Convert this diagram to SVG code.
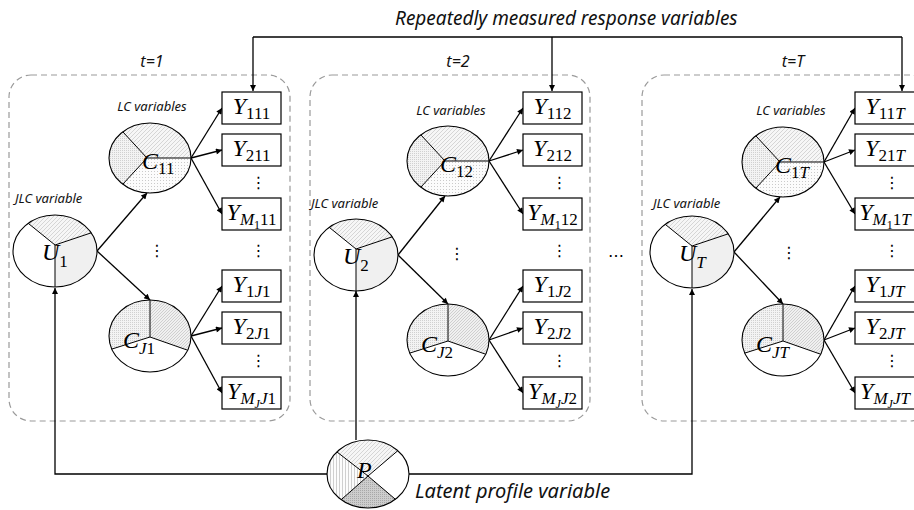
<svg xmlns="http://www.w3.org/2000/svg" xmlns:xlink="http://www.w3.org/1999/xlink" width="914" height="510" viewBox="0 0 914 510">
<style>
.panel{fill:none;stroke:#9a9a9a;stroke-width:1.2;stroke-dasharray:6 4}
.box{fill:#fff;stroke:#000;stroke-width:1.2}
.ol{fill:none;stroke:#000;stroke-width:1.1}
.ln{fill:none;stroke:#000;stroke-width:1}
.con{fill:none;stroke:#000;stroke-width:1.3}
.arr{fill:none;stroke:#000;stroke-width:1.3;marker-end:url(#ah)}
.m{font-family:"Liberation Serif",serif;font-style:italic;font-size:24px;fill:#000}
.mid{text-anchor:middle}
.sub{font-size:17px;font-style:normal}
.subi{font-size:17px;font-style:italic}
.ss{font-size:12px;font-style:normal}
.ssi{font-size:12px;font-style:italic}
.lab{font-family:"Noto Sans","Open Sans",sans-serif;font-style:italic;font-size:13px;fill:#111}
.big{font-size:19px}
.tt{font-size:16px;text-anchor:middle}
.dots{font-family:"DejaVu Sans",sans-serif;font-size:16px;text-anchor:middle;fill:#000}
</style>
<defs>
<marker id="ah" viewBox="0 0 10 10" refX="10" refY="5" markerWidth="8" markerHeight="6" markerUnits="userSpaceOnUse" orient="auto"><path d="M0,0 L10,5 L0,10 Z" fill="#000"/></marker>
<pattern id="hatch" width="4" height="4" patternUnits="userSpaceOnUse"><rect width="4" height="4" fill="#f6f6f6"/><path d="M0,4 L4,0" stroke="#cdcdcd" stroke-width="0.8"/></pattern>
<pattern id="hatch2" width="3" height="3" patternUnits="userSpaceOnUse"><rect width="3" height="3" fill="#f0f0f0"/><path d="M0,3 L3,0" stroke="#c2c2c2" stroke-width="0.7"/></pattern>
<pattern id="dots" width="3" height="3" patternUnits="userSpaceOnUse"><rect width="3" height="3" fill="#fcfcfc"/><rect x="1" y="1" width="1" height="1" fill="#cacaca"/></pattern>
<pattern id="dotsD" width="2" height="2" patternUnits="userSpaceOnUse"><rect width="2" height="2" fill="#f3f3f3"/><rect width="1" height="1" fill="#d0d0d0"/></pattern>
<pattern id="vl" width="3" height="3" patternUnits="userSpaceOnUse"><rect width="3" height="3" fill="#fcfcfc"/><path d="M1.5,0 V3" stroke="#b0b0b0" stroke-width="0.6"/></pattern>
<pattern id="dk" width="2" height="2" patternUnits="userSpaceOnUse"><rect width="2" height="2" fill="#cdcdcd"/><rect width="1" height="1" fill="#a8a8a8"/></pattern>
<g id="shCTop">
<ellipse rx="41" ry="35" fill="#fff"/>
<path d="M-3,0 L-27.2,-26.2 A41,35 0 0 0 -27.2,26.2 Z" fill="url(#dotsD)"/>
<path d="M-3,0 L-27.2,-26.2 A41,35 0 0 1 41,0 Z" fill="url(#hatch)"/>
<path d="M-3,0 L41,0 A41,35 0 0 1 -27.2,26.2 Z" fill="url(#dots)"/>
<path class="ln" d="M-27.2,-26.2 L-3,0 L-27.2,26.2 M-3,0 H41"/>
<ellipse class="ol" rx="41" ry="35"/>
</g>
<g id="shCBot">
<ellipse rx="41" ry="36" fill="#fff"/>
<path d="M0,1 L0,-36 A41,36 0 0 0 -38.2,13.1 Z" fill="url(#dotsD)"/>
<path d="M0,1 L0,-36 A41,36 0 0 1 37.6,14.2 Z" fill="url(#hatch2)"/>
<path class="ln" d="M0,-36 V1 M-38.2,13.1 L0,1 L37.6,14.2"/>
<ellipse class="ol" rx="41" ry="36"/>
</g>
<g id="shU">
<ellipse rx="42" ry="36" fill="#fff"/>
<path d="M0,-6 L-26.8,-27.7 A42,36 0 0 1 36.3,-18.2 Z" fill="url(#hatch)"/>
<path d="M0,-6 L36.3,-18.2 A42,36 0 0 1 0,36 Z" fill="#f0f0f0"/>
<path class="ln" d="M-26.8,-27.7 L0,-6 L36.3,-18.2 M0,-6 V36"/>
<ellipse class="ol" rx="42" ry="36"/>
</g>
</defs>
<rect width="914" height="510" fill="#fff"/>

<text class="lab big" x="395" y="25">Repeatedly measured response variables</text>

<g id="panels">
<rect class="panel" x="9" y="75" width="281" height="346" rx="22"/>
<rect class="panel" x="310" y="75" width="280" height="346" rx="22"/>
<rect class="panel" x="642" y="75" width="290" height="346" rx="22"/>
</g>
<text class="lab tt" x="152" y="67">t=1</text>
<text class="lab tt" x="458" y="67">t=2</text>
<text class="lab tt" x="793" y="67">t=T</text>
<text class="lab mid" x="152" y="111">LC variables</text>
<text class="lab mid" x="451" y="115">LC variables</text>
<text class="lab mid" x="791" y="115">LC variables</text>
<text class="lab" x="15" y="203">JLC variable</text>
<text class="lab" x="311" y="208">JLC variable</text>
<text class="lab" x="653" y="208">JLC variable</text>

<g id="connectors">
<path class="con" d="M253,37 H902"/>
<path class="arr" d="M253,37 V91"/>
<path class="arr" d="M552,37 V91"/>
<path class="arr" d="M902,37 V91"/>
<path class="arr" d="M327,474 H55 V288"/>
<path class="arr" d="M356,440 V291"/>
<path class="arr" d="M409,474 H692 V289"/>
<path class="arr" d="M97,251 L147,193"/>
<path class="arr" d="M97,251 L150,300"/>
<path class="arr" d="M398,255 L445,196"/>
<path class="arr" d="M398,255 L448,304"/>
<path class="arr" d="M734,252 L780,197"/>
<path class="arr" d="M734,252 L783,304"/>
<path class="arr" d="M191,158 L222,108"/>
<path class="arr" d="M191,158 L222,150"/>
<path class="arr" d="M191,158 L222,214"/>
<path class="arr" d="M191,336 L222,286"/>
<path class="arr" d="M191,336 L222,328"/>
<path class="arr" d="M191,336 L222,393"/>
<path class="arr" d="M489,161 L523,108"/>
<path class="arr" d="M489,161 L523,150"/>
<path class="arr" d="M489,161 L523,214"/>
<path class="arr" d="M489,340 L523,286"/>
<path class="arr" d="M489,340 L523,328"/>
<path class="arr" d="M489,340 L523,393"/>
<path class="arr" d="M824,162 L855,108"/>
<path class="arr" d="M824,162 L855,150"/>
<path class="arr" d="M824,162 L855,214"/>
<path class="arr" d="M824,340 L855,286"/>
<path class="arr" d="M824,340 L855,328"/>
<path class="arr" d="M824,340 L855,393"/>
</g>

<g id="U1" transform="translate(55,251)"><use xlink:href="#shU"/><text class="m" x="-13" y="9">U<tspan class="sub" dy="7">1</tspan></text></g>
<g id="U2" transform="translate(356,255)"><use xlink:href="#shU"/><text class="m" x="-13" y="9">U<tspan class="sub" dy="7">2</tspan></text></g>
<g id="UT" transform="translate(692,252)"><use xlink:href="#shU"/><text class="m" x="-13" y="9">U<tspan class="subi" dy="7">T</tspan></text></g>

<g id="C11" transform="translate(150,158)"><use xlink:href="#shCTop"/><text class="m" x="-8" y="11">C<tspan class="sub" dy="5">11</tspan></text></g>
<g id="C12" transform="translate(448,161)"><use xlink:href="#shCTop"/><text class="m" x="-8" y="11">C<tspan class="sub" dy="5">12</tspan></text></g>
<g id="C1T" transform="translate(783,162)"><use xlink:href="#shCTop"/><text class="m" x="-8" y="11">C<tspan class="sub" dy="5">1</tspan><tspan class="subi">T</tspan></text></g>
<g id="CJ1" transform="translate(150,336)"><use xlink:href="#shCBot"/><text class="m" x="-27" y="12">C<tspan class="subi" dy="6">J</tspan><tspan class="sub">1</tspan></text></g>
<g id="CJ2" transform="translate(448,340)"><use xlink:href="#shCBot"/><text class="m" x="-27" y="12">C<tspan class="subi" dy="6">J</tspan><tspan class="sub">2</tspan></text></g>
<g id="CJT" transform="translate(783,340)"><use xlink:href="#shCBot"/><text class="m" x="-27" y="12">C<tspan class="subi" dy="6">JT</tspan></text></g>

<g id="P" transform="translate(368,474)">
<ellipse rx="41" ry="34" fill="#fff"/>
<path d="M0,2 L-31.1,-22.1 A41,34 0 0 1 29.8,-23.3 Z" fill="url(#hatch)"/>
<path d="M0,2 L-26.8,25.7 A41,34 0 0 1 -31.1,-22.1 Z" fill="url(#vl)"/>
<path d="M0,2 L27.4,25.3 A41,34 0 0 1 -26.8,25.7 Z" fill="url(#dk)"/>
<path class="ln" d="M-31.1,-22.1 L0,2 L27.4,25.3 M29.8,-23.3 L0,2 L-26.8,25.7"/>
<ellipse class="ol" rx="41" ry="34"/>
<text class="m" x="-11" y="4">P</text>
</g>
<text class="lab" style="font-size:20px" x="415" y="498">Latent profile variable</text>

<g id="Y111"><rect class="box" x="222" y="92" width="59" height="32"/><text class="m mid" x="251.5" y="114">Y<tspan class="sub" dy="5">111</tspan></text></g>
<g id="Y211"><rect class="box" x="222" y="134" width="59" height="32"/><text class="m mid" x="251.5" y="156">Y<tspan class="sub" dy="5">211</tspan></text></g>
<g id="YM111"><rect class="box" x="222" y="198" width="59" height="32"/><text class="m mid" x="251.5" y="220">Y<tspan class="subi" dy="5">M</tspan><tspan class="ss" dy="4">1</tspan><tspan class="sub" dy="-4">11</tspan></text></g>
<g id="Y1J1"><rect class="box" x="222" y="270" width="59" height="32"/><text class="m mid" x="251.5" y="292">Y<tspan class="sub" dy="5">1</tspan><tspan class="subi">J</tspan><tspan class="sub">1</tspan></text></g>
<g id="Y2J1"><rect class="box" x="222" y="312" width="59" height="32"/><text class="m mid" x="251.5" y="334">Y<tspan class="sub" dy="5">2</tspan><tspan class="subi">J</tspan><tspan class="sub">1</tspan></text></g>
<g id="YMJJ1"><rect class="box" x="222" y="377" width="59" height="32"/><text class="m mid" x="251.5" y="399">Y<tspan class="subi" dy="5">M</tspan><tspan class="ssi" dy="4">J</tspan><tspan class="subi" dy="-4">J</tspan><tspan class="sub">1</tspan></text></g>

<g id="Y112"><rect class="box" x="523" y="92" width="59" height="32"/><text class="m mid" x="552.5" y="114">Y<tspan class="sub" dy="5">112</tspan></text></g>
<g id="Y212"><rect class="box" x="523" y="134" width="59" height="32"/><text class="m mid" x="552.5" y="156">Y<tspan class="sub" dy="5">212</tspan></text></g>
<g id="YM112"><rect class="box" x="523" y="198" width="59" height="32"/><text class="m mid" x="552.5" y="220">Y<tspan class="subi" dy="5">M</tspan><tspan class="ss" dy="4">1</tspan><tspan class="sub" dy="-4">12</tspan></text></g>
<g id="Y1J2"><rect class="box" x="523" y="270" width="59" height="32"/><text class="m mid" x="552.5" y="292">Y<tspan class="sub" dy="5">1</tspan><tspan class="subi">J</tspan><tspan class="sub">2</tspan></text></g>
<g id="Y2J2"><rect class="box" x="523" y="312" width="59" height="32"/><text class="m mid" x="552.5" y="334">Y<tspan class="sub" dy="5">2</tspan><tspan class="subi">J</tspan><tspan class="sub">2</tspan></text></g>
<g id="YMJJ2"><rect class="box" x="523" y="377" width="59" height="32"/><text class="m mid" x="552.5" y="399">Y<tspan class="subi" dy="5">M</tspan><tspan class="ssi" dy="4">J</tspan><tspan class="subi" dy="-4">J</tspan><tspan class="sub">2</tspan></text></g>

<g id="Y11T"><rect class="box" x="855" y="92" width="60" height="32"/><text class="m mid" x="885" y="114">Y<tspan class="sub" dy="5">11</tspan><tspan class="subi">T</tspan></text></g>
<g id="Y21T"><rect class="box" x="855" y="134" width="60" height="32"/><text class="m mid" x="885" y="156">Y<tspan class="sub" dy="5">21</tspan><tspan class="subi">T</tspan></text></g>
<g id="YM11T"><rect class="box" x="855" y="198" width="60" height="32"/><text class="m mid" x="885" y="220">Y<tspan class="subi" dy="5">M</tspan><tspan class="ss" dy="4">1</tspan><tspan class="sub" dy="-4">1</tspan><tspan class="subi">T</tspan></text></g>
<g id="Y1JT"><rect class="box" x="855" y="270" width="60" height="32"/><text class="m mid" x="885" y="292">Y<tspan class="sub" dy="5">1</tspan><tspan class="subi">JT</tspan></text></g>
<g id="Y2JT"><rect class="box" x="855" y="312" width="60" height="32"/><text class="m mid" x="885" y="334">Y<tspan class="sub" dy="5">2</tspan><tspan class="subi">JT</tspan></text></g>
<g id="YMJJT"><rect class="box" x="855" y="377" width="60" height="32"/><text class="m mid" x="885" y="399">Y<tspan class="subi" dy="5">M</tspan><tspan class="ssi" dy="4">J</tspan><tspan class="subi" dy="-4">JT</tspan></text></g>

<g id="ellipses">
<text class="dots" x="258.5" y="188">⋮</text>
<text class="dots" x="258.5" y="256">⋮</text>
<text class="dots" x="258.5" y="366">⋮</text>
<text class="dots" x="157" y="256">⋮</text>
<text class="dots" x="559.5" y="188">⋮</text>
<text class="dots" x="559.5" y="256">⋮</text>
<text class="dots" x="559.5" y="366">⋮</text>
<text class="dots" x="457" y="259">⋮</text>
<text class="dots" x="892" y="188">⋮</text>
<text class="dots" x="892" y="256">⋮</text>
<text class="dots" x="892" y="366">⋮</text>
<text class="dots" x="789" y="258">⋮</text>
<text class="dots" x="616" y="257">…</text>
</g>
</svg>
